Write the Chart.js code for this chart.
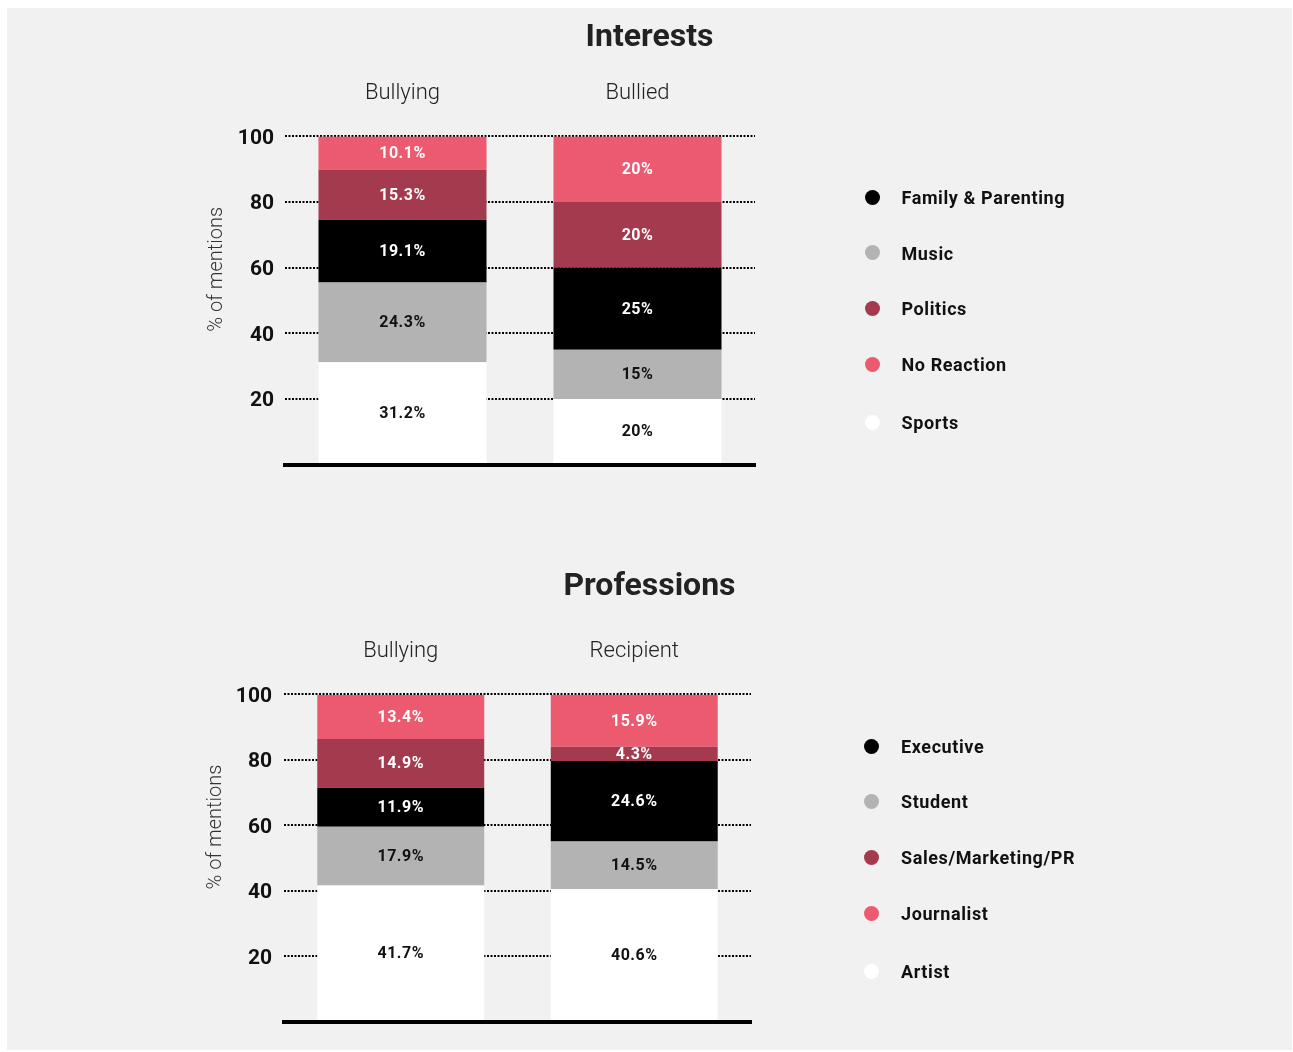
<!DOCTYPE html>
<html>
<head>
<meta charset="utf-8">
<script src="https://cdn.jsdelivr.net/npm/chart.js@4"></script>
<style>
  html, body { margin: 0; padding: 0; background: #ffffff; }
  #wrap { position: absolute; left: 7px; top: 8px; width: 1285px; height: 1042px; background: #f1f1f1; overflow: hidden; }
  canvas { position: absolute; left: 0; }
  #c1 { top: 0; }
  #c2 { top: 540px; }
  .lg { position: absolute; left: 0; top: 0; }
  .row { position: absolute; height: 0; }
  .dot { position: absolute; width: 15px; height: 15px; border-radius: 50%; left: 0; top: -7.5px; }
  .txt { position: absolute; left: 37px; top: 0; transform: translateY(-50%); white-space: nowrap;
         font-family: Roboto, sans-serif; font-weight: 700; font-size: 18px; letter-spacing: 0.6px; color: #111; }
</style>
</head>
<body>
<div id="wrap">
  <canvas id="c1" width="1285" height="540"></canvas>
  <canvas id="c2" width="1285" height="502"></canvas>
  <div id="lg1" class="lg"></div>
  <div id="lg2" class="lg"></div>
</div>
<script>
// ---------- DATA ----------
const interestCategories = ['Bullying', 'Bullied'];
const interestSports      = [31.2, 20];
const interestMusic       = [24.3, 15];
const interestFamily      = [19.1, 25];
const interestPolitics    = [15.3, 20];
const interestNoReaction  = [10.1, 20];

const professionCategories = ['Bullying', 'Recipient'];
const professionArtist     = [41.7, 40.6];
const professionStudent    = [17.9, 14.5];
const professionExecutive  = [11.9, 24.6];
const professionSales      = [14.9, 4.3];
const professionJournalist = [13.4, 15.9];

const yTicks = [0, 20, 40, 60, 80, 100];
const yAxisTitle = '% of mentions';

// ---------- STYLE ----------
const C_WHITE = '#ffffff', C_GRAY = '#b3b3b3', C_BLACK = '#000000', C_DARKRED = '#a43a4e', C_PINK = '#ec5a70';
const FONT = 'Roboto, sans-serif';

function ds(label, data, color, textColor) {
  return { label, data, backgroundColor: color, borderWidth: 0, labelColor: textColor,
           barPercentage: 0.715, categoryPercentage: 1.0 };
}

const barLabels = {
  id: 'barLabels',
  afterDatasetsDraw(chart) {
    const ctx = chart.ctx;
    ctx.save();
    ctx.font = '700 16px ' + FONT;
    ctx.letterSpacing = '0.5px';
    ctx.textAlign = 'center';
    ctx.textBaseline = 'middle';
    chart.data.datasets.forEach((d, i) => {
      const meta = chart.getDatasetMeta(i);
      meta.data.forEach((bar, j) => {
        const p = bar.getCenterPoint();
        ctx.fillStyle = d.labelColor;
        ctx.fillText(d.data[j] + '%', p.x, p.y + 1);
      });
    });
    ctx.restore();
  }
};

const yTitle = {
  id: 'yTitle',
  afterDraw(chart) {
    const ctx = chart.ctx, y = chart.scales.y;
    ctx.save();
    ctx.font = '300 20px ' + FONT;
    ctx.fillStyle = '#333';
    ctx.textAlign = 'center';
    ctx.textBaseline = 'alphabetic';
    ctx.translate(chart.chartArea.left - 63.5, y.getPixelForValue(59.5));
    ctx.rotate(-Math.PI / 2);
    ctx.fillText(yAxisTitle, 0, 0);
    ctx.restore();
  }
};

function makeChart(canvasId, title, categories, datasets, lay) {
  return new Chart(document.getElementById(canvasId), {
    type: 'bar',
    data: { labels: categories, datasets },
    plugins: [barLabels, yTitle],
    options: {
      responsive: false,
      animation: false,
      layout: { padding: { left: 0, right: 0, top: 0, bottom: lay.bottom } },
      plugins: {
        legend: { display: false },
        tooltip: { enabled: false },
        title: { display: true, text: title, color: '#222',
                 font: { family: FONT, size: 32, weight: '700' },
                 padding: { top: lay.tTop, bottom: lay.tBottom } }
      },
      scales: {
        x: {
          stacked: true, position: 'top',
          grid: { display: false, drawTicks: false },
          border: { display: false },
          ticks: { color: '#222', padding: 30, font: { family: FONT, size: 22, weight: '300' } },
          afterFit(s) { s.height = 78; }
        },
        x2: {
          type: 'category', position: 'bottom', labels: categories,
          grid: { display: false, drawTicks: false },
          ticks: { display: false },
          border: { display: true, color: '#000', width: 4, z: 1 }
        },
        y: {
          stacked: true, min: 0, max: 100,
          afterBuildTicks(s) { s.ticks = yTicks.map(v => ({ value: v })); },
          ticks: { color: '#111', padding: lay.tickPad, labelOffset: 2,
                   font: { family: FONT, size: 21, weight: '700' },
                   callback: v => (v === 0 ? '' : v) },
          grid: { drawTicks: false, lineWidth: 2,
                  color: c => (c.tick && c.tick.value === 0 ? 'rgba(0,0,0,0)' : '#000') },
          border: { display: false, dash: [2, 1.5] },
          afterFit(s) { s.width = lay.left; }
        },
        yR: {
          type: 'linear', position: 'right', min: 0, max: 100,
          grid: { display: false, drawTicks: false },
          border: { display: false },
          ticks: { display: false },
          afterFit(s) { s.width = lay.right; }
        }
      }
    }
  });
}

const interestSets = [
  ds('Sports', interestSports, C_WHITE, '#111'),
  ds('Music', interestMusic, C_GRAY, '#111'),
  ds('Family & Parenting', interestFamily, C_BLACK, '#fff'),
  ds('Politics', interestPolitics, C_DARKRED, '#fff'),
  ds('No Reaction', interestNoReaction, C_PINK, '#fff')
];
const professionSets = [
  ds('Artist', professionArtist, C_WHITE, '#111'),
  ds('Student', professionStudent, C_GRAY, '#111'),
  ds('Executive', professionExecutive, C_BLACK, '#fff'),
  ds('Sales/Marketing/PR', professionSales, C_DARKRED, '#fff'),
  ds('Journalist', professionJournalist, C_PINK, '#fff')
];

makeChart('c1', 'Interests', interestCategories, interestSets,
  { left: 278, right: 537, bottom: 83.5, tTop: 11, tBottom: 1, tickPad: 11 });
makeChart('c2', 'Professions', professionCategories, professionSets,
  { left: 277, right: 541, bottom: 28, tTop: 20, tBottom: 10, tickPad: 12 });

// ---------- HTML legends (order: black, gray, dark red, pink, white) ----------
const legendOrder = [2, 1, 3, 4, 0];
function buildLegend(elId, sets, x, rowYs) {
  const el = document.getElementById(elId);
  legendOrder.forEach((k, i) => {
    const row = document.createElement('div');
    row.className = 'row';
    row.style.left = x + 'px';
    row.style.top = rowYs[i] + 'px';
    const dot = document.createElement('div');
    dot.className = 'dot';
    dot.style.background = sets[k].backgroundColor;
    const t = document.createElement('div');
    t.className = 'txt';
    t.textContent = sets[k].label;
    row.appendChild(dot); row.appendChild(t);
    el.appendChild(row);
  });
}
buildLegend('lg1', interestSets, 857.5, [189, 244.5, 300, 356, 414]);
buildLegend('lg2', professionSets, 857, [738, 793, 849, 905, 963]);
</script>
</body>
</html>
